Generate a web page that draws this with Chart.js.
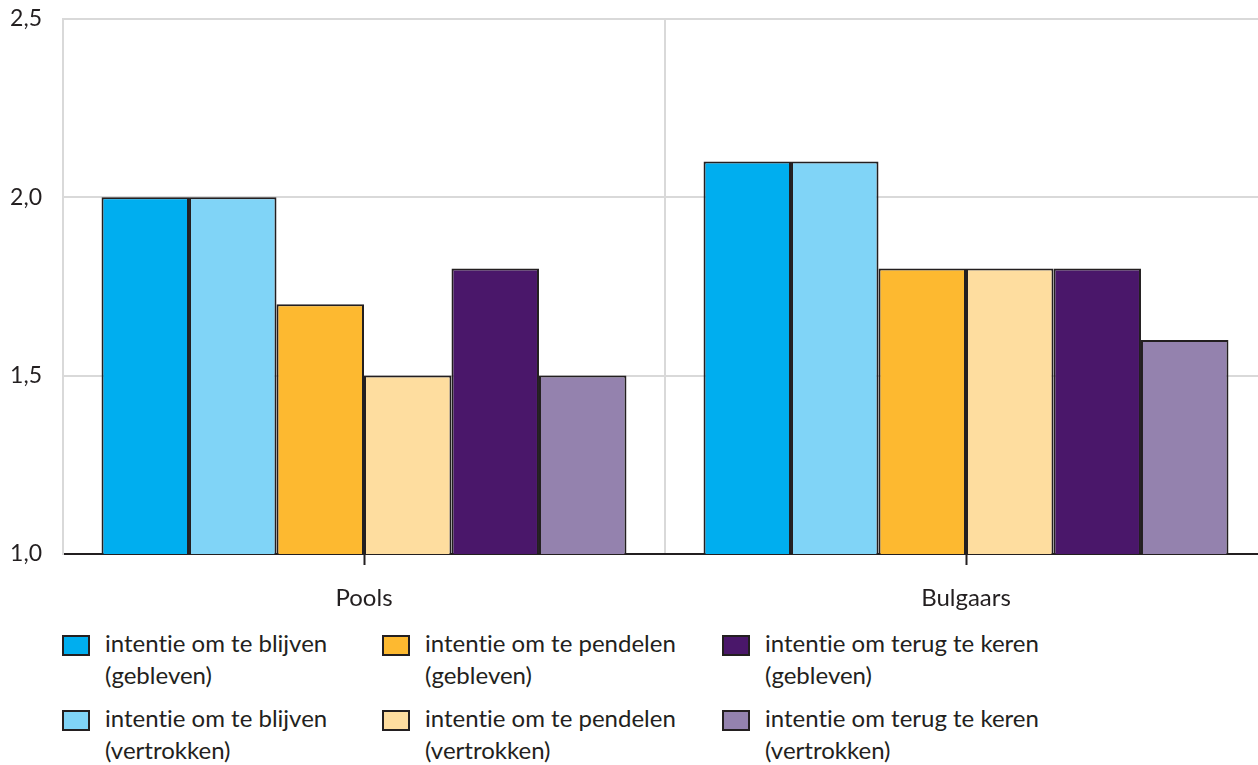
<!DOCTYPE html>
<html>
<head>
<meta charset="utf-8">
<script src="https://cdn.jsdelivr.net/npm/chart.js@4"></script>
<style>
  body { margin: 0; width: 1258px; height: 765px; overflow: hidden; background: #fff; font-family: Lato, sans-serif; color: #231f20; position: relative; font-variant-ligatures: none; }
  #wrap { position: absolute; left: 0; top: -16px; width: 1268px; height: 636px; }
  #legend { position: absolute; left: 0; top: 627px; width: 1258px; }
  .item { position: absolute; font-size: 24px; line-height: 32px; white-space: nowrap; }
  .box { position: absolute; width: 24px; height: 17px; border: 2px solid #231f20; }
</style>
</head>
<body>
<div id="wrap"><canvas id="myChart" width="1268" height="636"></canvas></div>
<div id="legend"></div>
<script>
// data
const categorieen = ['Pools', 'Bulgaars'];
const reeksNamen = [
  ['intentie om te blijven', '(gebleven)'],
  ['intentie om te blijven', '(vertrokken)'],
  ['intentie om te pendelen', '(gebleven)'],
  ['intentie om te pendelen', '(vertrokken)'],
  ['intentie om terug te keren', '(gebleven)'],
  ['intentie om terug te keren', '(vertrokken)']
];
const blijvenGebleven = [2.0, 2.1];
const blijvenVertrokken = [2.0, 2.1];
const pendelenGebleven = [1.7, 1.8];
const pendelenVertrokken = [1.5, 1.8];
const terugGebleven = [1.8, 1.8];
const terugVertrokken = [1.5, 1.6];
const yTicks = [1.0, 1.5, 2.0, 2.5];

const kleuren = ['#00aeef', '#80d4f7', '#fdb930', '#fedd9f', '#4a176a', '#9482ae'];
const reeksen = [blijvenGebleven, blijvenVertrokken, pendelenGebleven, pendelenVertrokken, terugGebleven, terugVertrokken];

// tick streepjes onder de as, midden van elke categorie
const middenTicks = {
  id: 'middenTicks',
  afterDraw(chart) {
    const x = chart.scales.x;
    const ctx = chart.ctx;
    ctx.save();
    ctx.strokeStyle = '#231f20';
    ctx.lineWidth = 2;
    for (let i = 0; i < categorieen.length; i++) {
      const px = Math.round(x.getPixelForValue(i)) + 0.5;
      ctx.beginPath();
      ctx.moveTo(px, x.top);
      ctx.lineTo(px, x.top + 11);
      ctx.stroke();
    }
    ctx.restore();
  }
};

const ctx = document.getElementById('myChart');
new Chart(ctx, {
  type: 'bar',
  data: {
    labels: categorieen,
    datasets: reeksen.map((r, i) => ({
      label: reeksNamen[i].join(' '),
      data: r,
      backgroundColor: kleuren[i],
      borderColor: '#231f20',
      borderWidth: 2,
      borderSkipped: false,
      categoryPercentage: 0.872,
      barPercentage: 1
    }))
  },
  options: {
    responsive: false,
    animation: false,
    layout: { padding: { top: 3, right: 1, left: 0, bottom: 0 } },
    plugins: { legend: { display: false }, tooltip: { enabled: false } },
    scales: {
      x: {
        offset: true,
        grid: { color: '#d9d9d9', lineWidth: 2, drawTicks: false, offset: true },
        border: { color: '#231f20', width: 2 },
        ticks: { color: '#231f20', padding: 30, font: { family: 'Lato', size: 24 } },
        afterFit(s) { s.height = 66; }
      },
      y: {
        min: 1,
        max: 2.5,
        afterBuildTicks(s) { s.ticks = yTicks.map(v => ({ value: v })); },
        grid: { color: '#d9d9d9', lineWidth: 2, drawTicks: false },
        border: { color: '#d9d9d9', width: 2 },
        ticks: {
          color: '#231f20',
          padding: 21,
          font: { family: 'Lato', size: 23 },
          callback: v => v.toFixed(1).replace('.', ',')
        },
        afterFit(s) { s.width = 63; }
      }
    }
  },
  plugins: [middenTicks]
});

// legenda in drie kolommen
const kolomX = [62, 382, 722];
const legend = document.getElementById('legend');
reeksNamen.forEach((naam, i) => {
  const kol = Math.floor(i / 2);
  const rij = i % 2;
  const top = rij * 75;
  const box = document.createElement('div');
  box.className = 'box';
  box.style.left = kolomX[kol] + 'px';
  box.style.top = (top + 8) + 'px';
  box.style.background = kleuren[i];
  legend.appendChild(box);
  const t = document.createElement('div');
  t.className = 'item';
  t.style.left = (kolomX[kol] + 43) + 'px';
  t.style.top = top + 'px';
  t.innerHTML = naam[0] + '<br>' + naam[1];
  legend.appendChild(t);
});
</script>
</body>
</html>
